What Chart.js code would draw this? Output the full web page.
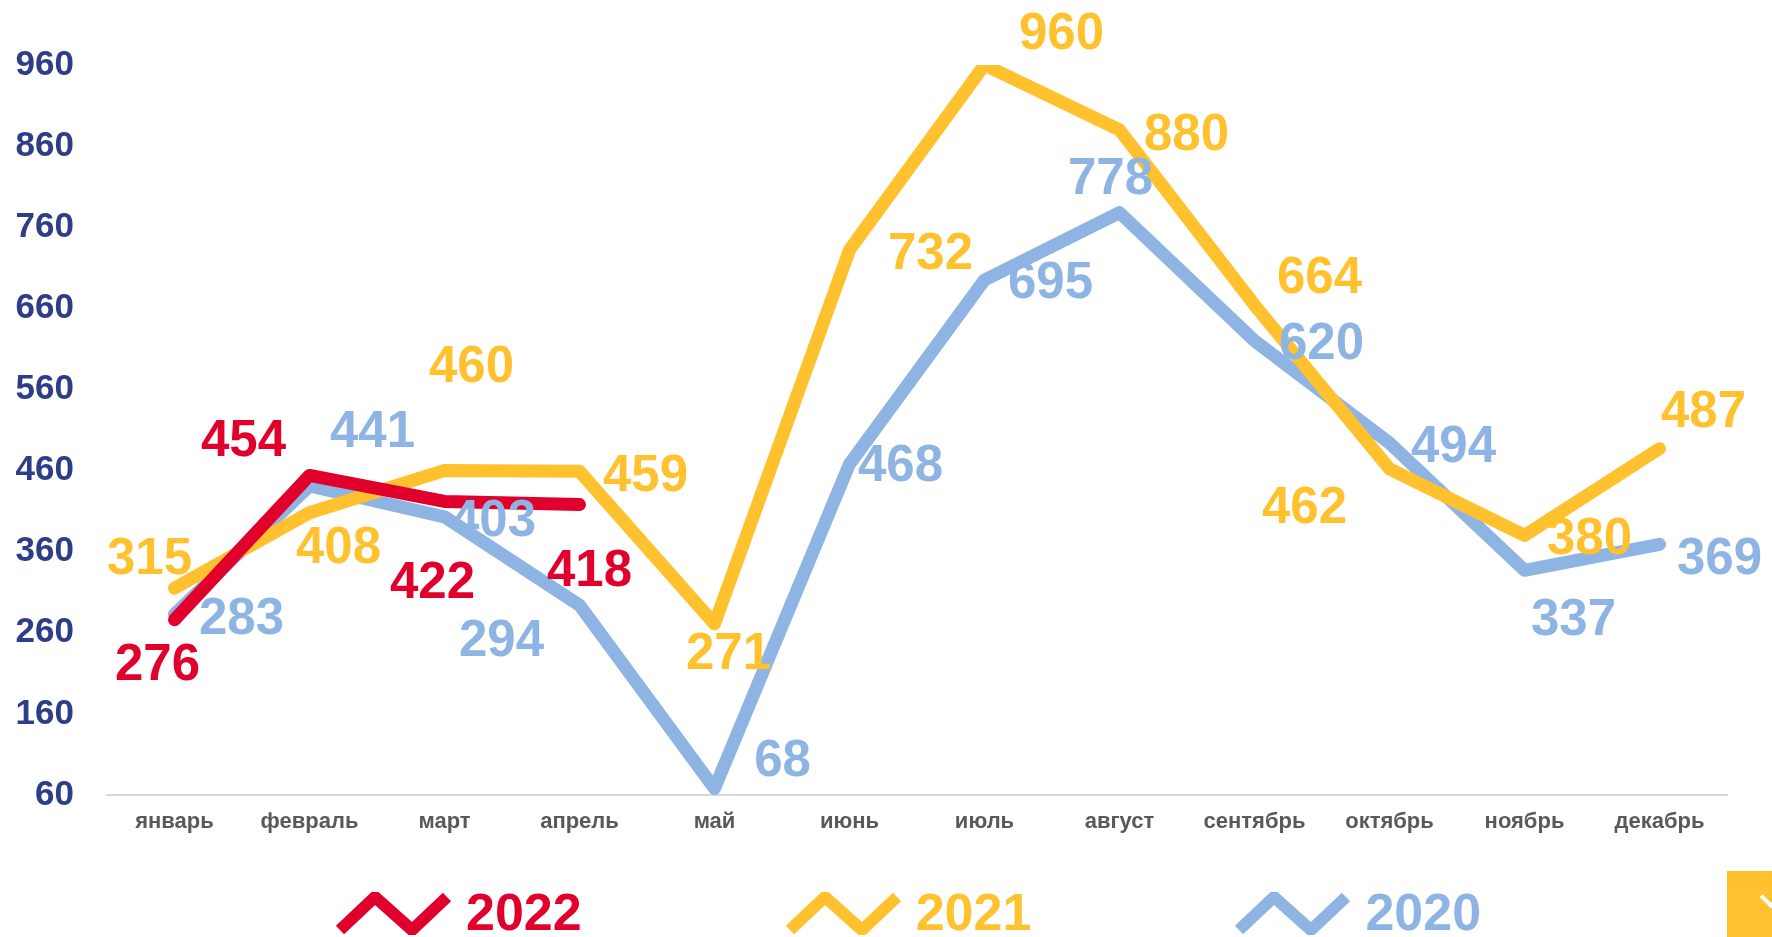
<!DOCTYPE html>
<html lang="ru">
<head>
    <meta charset="UTF-8">
    <meta name="viewport" content="width=device-width, initial-scale=1.0">
    <title>Динамика по месяцам</title>
    <script src="https://cdn.jsdelivr.net/npm/chart.js"></script>
    <style>
        body {
            margin: 0;
            background-color: #fff;
            font-family: 'Liberation Sans', Arial, sans-serif;
        }

        #wrap {
            position: relative;
            width: 1772px;
            height: 937px;
            overflow: hidden;
        }

        #legend {
            position: absolute;
            left: 335px;
            top: 886px;
            display: flex;
            gap: 203px;
        }

        .item {
            display: flex;
            align-items: flex-start;
            font-weight: bold;
            font-size: 52px;
            line-height: 52px;
        }

        .item svg {
            display: block;
            margin-top: 6px;
            margin-right: 14px;
        }

        #corner {
            position: absolute;
            left: 1727px;
            top: 871px;
            width: 45px;
            height: 66px;
            background-color: #ffc22e;
        }

        #corner:after {
            content: '';
            position: absolute;
            left: 36px;
            top: 18px;
            width: 12px;
            height: 12px;
            border-right: 4px solid #fff;
            border-bottom: 4px solid #fff;
            transform: rotate(45deg);
        }
    </style>
</head>
<body>

    <div id="wrap">
        <canvas id="myChart"></canvas>
        <div id="legend"></div>
        <div id="corner"></div>
    </div>

    <script>
        const months = ['январь', 'февраль', 'март', 'апрель', 'май', 'июнь', 'июль', 'август', 'сентябрь', 'октябрь', 'ноябрь', 'декабрь'];

        const values2022 = [276, 454, 422, 418];
        const values2021 = [315, 408, 460, 459, 271, 732, 960, 880, 664, 462, 380, 487];
        const values2020 = [283, 441, 403, 294, 68, 468, 695, 778, 620, 494, 337, 369];

        const seriesNames = ['2022', '2021', '2020'];
        const colors = ['#e1002c', '#ffc22e', '#8db4e2'];

        // where each value label sits, relative to its point (px)
        const labelShift = [
            [[-17, 42], [-66, -38], [-12, 78], [10, 63]],
            [[-25, -32], [29, 32], [27, -107], [66, 1], [14, 27], [81, 1], [77, -34], [67, 2], [65, -30], [-85, 36], [65, 0], [44, -40]],
            [[67, 2], [63, -57], [49, 1], [-78, 33], [68, -31], [51, -1], [66, 0], [-9, -37], [67, 0], [64, 1], [49, 46], [60, 11]]
        ];

        const valueLabels = {
            id: 'valueLabels',
            afterDatasetsDraw(chart) {
                const ctx = chart.ctx;
                const size = 51;
                ctx.save();
                ctx.font = 'bold ' + size + 'px "Liberation Sans", Arial, sans-serif';
                ctx.textAlign = 'center';
                ctx.textBaseline = 'alphabetic';
                // blue first, red last
                for (let i = chart.data.datasets.length - 1; i >= 0; i--) {
                    const ds = chart.data.datasets[i];
                    const meta = chart.getDatasetMeta(i);
                    ctx.fillStyle = ds.borderColor;
                    meta.data.forEach((pt, j) => {
                        const shift = labelShift[i][j];
                        ctx.fillText(String(ds.data[j]), pt.x + shift[0], pt.y + shift[1] + size * 0.358);
                    });
                }
                ctx.restore();
            }
        };

        const ctx = document.getElementById('myChart').getContext('2d');

        const chart = new Chart(ctx, {
            type: 'line',
            data: {
                labels: months,
                datasets: [values2022, values2021, values2020].map((vals, i) => ({
                    label: seriesNames[i],
                    data: vals,
                    borderColor: colors[i],
                    backgroundColor: colors[i],
                    borderWidth: 13,
                    borderCapStyle: 'round',
                    borderJoinStyle: 'round',
                    pointRadius: 0,
                    tension: 0,
                    fill: false
                }))
            },
            options: {
                responsive: true,
                maintainAspectRatio: false,
                animation: false,
                layout: {
                    padding: { top: 65, right: 45, bottom: 82, left: 0 }
                },
                plugins: {
                    legend: { display: false },
                    tooltip: { enabled: false }
                },
                scales: {
                    x: {
                        offset: true,
                        grid: { display: false, drawTicks: false },
                        border: { display: true, color: '#d9d9d9', width: 2 },
                        ticks: {
                            color: '#595959',
                            padding: 14,
                            maxRotation: 0,
                            font: { family: '"Liberation Sans", Arial, sans-serif', size: 22, weight: 'bold' }
                        },
                        afterFit(scale) {
                            scale.height = 60;
                        }
                    },
                    y: {
                        min: 60,
                        max: 960,
                        grid: { display: false, drawTicks: false },
                        border: { display: false },
                        ticks: {
                            stepSize: 100,
                            color: '#2e3d87',
                            padding: 33,
                            font: { family: '"Liberation Sans", Arial, sans-serif', size: 35, weight: 'bold' }
                        },
                        afterFit(scale) {
                            scale.width = 107;
                        }
                    }
                }
            },
            plugins: [valueLabels]
        });

        // legend with zigzag marks
        const legend = document.getElementById('legend');
        seriesNames.forEach((name, i) => {
            const item = document.createElement('div');
            item.className = 'item';
            item.style.color = colors[i];
            item.innerHTML =
                '<svg width="117" height="43" viewBox="0 0 117 43">' +
                '<polyline points="5,38 40,5 77,38 112,5" fill="none" stroke="' + colors[i] + '" stroke-width="12" stroke-linejoin="miter"/>' +
                '</svg><span>' + name + '</span>';
            legend.appendChild(item);
        });
    </script>
</body>
</html>
